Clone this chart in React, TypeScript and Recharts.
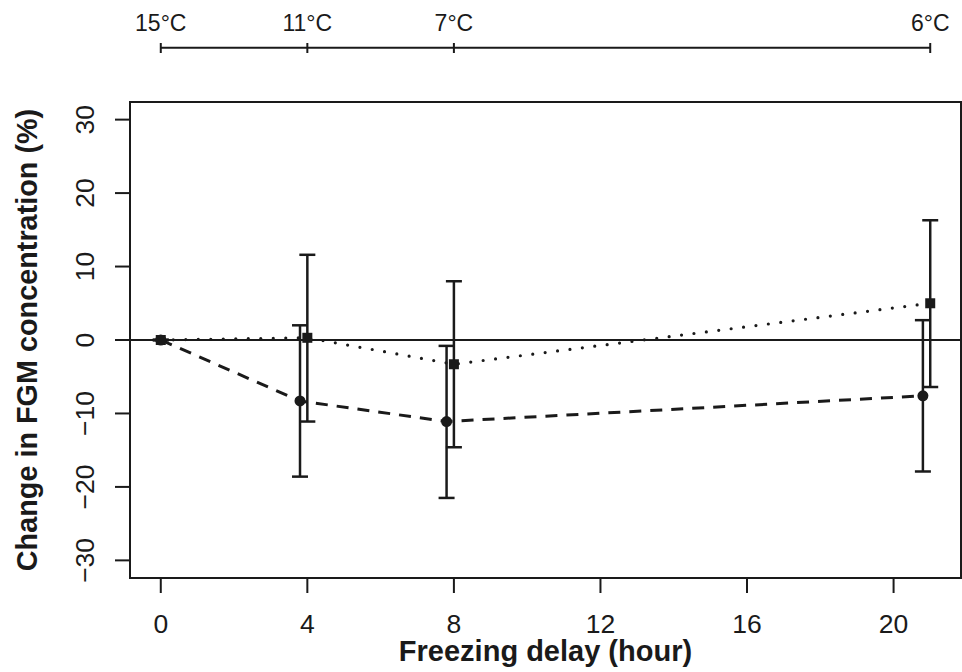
import React from 'react';
import {
  ComposedChart,
  XAxis,
  YAxis,
  Line,
  Scatter,
  ErrorBar,
  ReferenceLine,
  ReferenceArea,
  Label,
} from 'recharts';

// freezing delay (hour) at which the temperature was logged
const hours = [0, 4, 8, 21];
const tempLabels = ['15°C', '11°C', '7°C', '6°C'];

// circles (dashed line), drawn slightly left of each delay
const circleX = [0, 3.8, 7.8, 20.8];
const circleY = [0, -8.3, -11.1, -7.6];
const circleLow = [0, -18.6, -21.5, -17.9];
const circleHigh = [0, 2.0, -0.8, 2.7];

// squares (dotted line)
const squareY = [0, 0.3, -3.3, 5.0];
const squareLow = [0, -11.1, -14.6, -6.4];
const squareHigh = [0, 11.6, 8.0, 16.3];

const xTicks = [0, 4, 8, 12, 16, 20];
const yTicks = [-30, -20, -10, 0, 10, 20, 30];

const INK = '#1a1a1a';
const FONT = '"Liberation Sans", Arial, Helvetica, sans-serif';
const X_DOMAIN: [number, number] = [-0.84, 21.84];
const Y_DOMAIN: [number, number] = [-32.4, 32.4];
const SCALE_LINE_Y = 39.8; // temperature bar above the plot

const circleData = circleX.map((x, i) => ({
  x,
  y: circleY[i],
  err: [circleY[i] - circleLow[i], circleHigh[i] - circleY[i]],
}));
const squareData = hours.map((x, i) => ({
  x,
  y: squareY[i],
  err: [squareY[i] - squareLow[i], squareHigh[i] - squareY[i]],
}));
const dashedData = circleX.map((x, i) => ({ x, y: circleY[i] }));
const dottedData = hours.map((x, i) => ({ x, y: squareY[i] }));

const minus = (v: number) => (v < 0 ? `\u2212${-v}` : `${v}`);

const BottomTick = (props: any) => {
  const { x, y, payload } = props;
  return (
    <text x={x} y={y + 40} textAnchor="middle" fontSize={26.5} fontFamily={FONT} fill={INK}>
      {payload.value}
    </text>
  );
};

const LeftTick = (props: any) => {
  const { x, y, payload } = props;
  return (
    <text
      x={x}
      y={y}
      transform={`rotate(-90, ${x}, ${y})`}
      textAnchor="middle"
      fontSize={26.5}
      fontFamily={FONT}
      fill={INK}
    >
      {minus(payload.value)}
    </text>
  );
};

const TopTick = (props: any) => {
  const { x, y, payload } = props;
  const idx = hours.indexOf(payload.value);
  return (
    <g>
      <line x1={x} x2={x} y1={y - 59} y2={y - 49} stroke={INK} strokeWidth={2} />
      <text x={x} y={y - 71} textAnchor="middle" fontSize={23} fontFamily={FONT} fill={INK}>
        {tempLabels[idx]}
      </text>
    </g>
  );
};

const Circle = (props: any) => <circle cx={props.cx} cy={props.cy} r={5.5} fill={INK} />;
const Square = (props: any) => (
  <rect x={props.cx - 5} y={props.cy - 5} width={10} height={10} fill={INK} />
);

const YTitle = (props: any) => {
  const { x, y, height } = props.viewBox;
  const tx = x + 37;
  const ty = y + height / 2;
  return (
    <text
      x={tx}
      y={ty}
      transform={`rotate(-90, ${tx}, ${ty})`}
      textAnchor="middle"
      fontSize={28.8}
      fontWeight="bold"
      fontFamily={FONT}
      fill={INK}
    >
      Change in FGM concentration (%)
    </text>
  );
};

const XTitle = (props: any) => {
  const { x, y, width, height } = props.viewBox;
  return (
    <text
      x={x + width / 2}
      y={y + height - 11}
      textAnchor="middle"
      fontSize={29}
      fontWeight="bold"
      fontFamily={FONT}
      fill={INK}
    >
      Freezing delay (hour)
    </text>
  );
};

export default function App() {
  return (
    <div style={{ position: 'absolute', left: 0, top: 0, background: '#fff' }}>
      <ComposedChart width={962} height={672} margin={{ top: 0, right: 1, bottom: 0, left: 0 }}>
        <XAxis
          xAxisId="top"
          orientation="top"
          dataKey="x"
          type="number"
          domain={X_DOMAIN}
          allowDataOverflow
          ticks={hours}
          height={102}
          axisLine={false}
          tickLine={false}
          tickSize={0}
          tickMargin={0}
          tick={<TopTick />}
          interval={0}
        />
        <XAxis
          dataKey="x"
          type="number"
          domain={X_DOMAIN}
          allowDataOverflow
          ticks={xTicks}
          height={94}
          axisLine={false}
          tickLine={{ stroke: INK, strokeWidth: 2 }}
          tickSize={15}
          tickMargin={0}
          tick={<BottomTick />}
          interval={0}
          label={<Label content={<XTitle />} />}
        />
        <YAxis
          dataKey="y"
          type="number"
          domain={Y_DOMAIN}
          allowDataOverflow
          ticks={yTicks}
          width={130}
          axisLine={false}
          tickLine={{ stroke: INK, strokeWidth: 2 }}
          tickSize={15}
          tickMargin={21}
          tick={<LeftTick />}
          interval={0}
          label={<Label content={<YTitle />} />}
        />
        <ReferenceArea
          x1={X_DOMAIN[0]}
          x2={X_DOMAIN[1]}
          y1={Y_DOMAIN[0]}
          y2={Y_DOMAIN[1]}
          fill="none"
          stroke={INK}
          strokeWidth={2}
          ifOverflow="visible"
        />
        <ReferenceLine y={0} stroke={INK} strokeWidth={2} />
        <ReferenceLine
          segment={[
            { x: hours[0], y: SCALE_LINE_Y },
            { x: hours[hours.length - 1], y: SCALE_LINE_Y },
          ]}
          stroke={INK}
          strokeWidth={2}
          ifOverflow="visible"
        />
        <Line
          data={dashedData}
          dataKey="y"
          stroke={INK}
          strokeWidth={3}
          strokeDasharray="12 9"
          dot={false}
          activeDot={false}
          isAnimationActive={false}
        />
        <Line
          data={dottedData}
          dataKey="y"
          stroke={INK}
          strokeWidth={3.2}
          strokeDasharray="0 12.5"
          strokeLinecap="round"
          dot={false}
          activeDot={false}
          isAnimationActive={false}
        />
        <Scatter data={circleData} dataKey="y" shape={<Circle />} isAnimationActive={false}>
          <ErrorBar dataKey="err" direction="y" width={8} stroke={INK} strokeWidth={2.5} />
        </Scatter>
        <Scatter data={squareData} dataKey="y" shape={<Square />} isAnimationActive={false}>
          <ErrorBar dataKey="err" direction="y" width={8} stroke={INK} strokeWidth={2.5} />
        </Scatter>
      </ComposedChart>
    </div>
  );
}
